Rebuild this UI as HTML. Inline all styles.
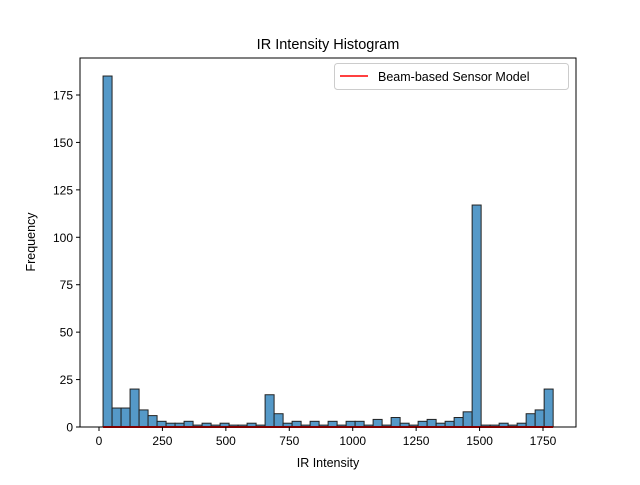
<!DOCTYPE html>
<html><head><meta charset="utf-8"><style>
body{margin:0;background:#fff}
svg{font-family:"Liberation Sans","DejaVu Sans",sans-serif}
</style></head><body>
<svg id="c" width="640" height="480" xmlns="http://www.w3.org/2000/svg">
<rect width="640" height="480" fill="#fff"/>
<text x="328" y="49" text-anchor="middle" font-size="14.5">IR Intensity Histogram</text>
<g id="bars"></g>
<g id="xt"></g>
<g id="yt"></g>
<rect x="80" y="58" width="496" height="369" fill="none" stroke="#000" stroke-width="1"/>
<text x="328" y="467" text-anchor="middle" font-size="12.5">IR Intensity</text>
<text x="35" y="242" text-anchor="middle" font-size="12.5" transform="rotate(-90 35 242)">Frequency</text>
<g>
<rect x="334.5" y="63.5" width="234" height="26" rx="3" fill="#fff" stroke="#ccc"/>
<line x1="340" y1="76" x2="368" y2="76" stroke="#f00" stroke-width="1.5"/>
<text x="378" y="81" font-size="12.5">Beam-based Sensor Model</text>
</g>
</svg>
<script>
const binStart = 16;
const binEnd = 1790;
const counts = [185,10,10,20,9,6,3,2,2,3,1,2,1,2,1,1,2,1,17,7,2,3,1,3,1,3,1,3,3,1,4,1,5,2,1,3,4,2,3,5,8,117,1,1,2,1,2,7,9,20];
const xTicks = [0,250,500,750,1000,1250,1500,1750];
const yTicks = [0,25,50,75,100,125,150,175];
const NS='http://www.w3.org/2000/svg';
const X=v=>99+(v)*(444/1750);
const Y=v=>427-v*(332/175);
function mk(t,a,p){const e=document.createElementNS(NS,t);for(const k in a)e.setAttribute(k,a[k]);p.appendChild(e);return e;}
const bars=document.getElementById('bars');
const w=(binEnd-binStart)/counts.length;
counts.forEach((c,i)=>{
  const x0=X(binStart+i*w),x1=X(binStart+(i+1)*w);
  const r=mk('rect',{x:x0,y:Y(c),width:x1-x0,height:Y(0)-Y(c),fill:'#5599c8',stroke:'#222','stroke-width':1},bars);
  
  
});
const rl=mk('line',{x1:X(binStart),x2:X(binEnd),y1:Y(0),y2:Y(0),stroke:'#f00','stroke-width':2},bars);


const xt=document.getElementById('xt');
xTicks.forEach(v=>{
  const l=mk('line',{x1:X(v),x2:X(v),y1:427,y2:431,stroke:'#000'},xt);
  
  
  const t=mk('text',{x:X(v),y:445,'text-anchor':'middle','font-size':'12'},xt);
  t.textContent=v;
  
  
});
const yt=document.getElementById('yt');
yTicks.forEach(v=>{
  const l=mk('line',{x1:76,x2:80,y1:Y(v),y2:Y(v),stroke:'#000'},yt);
  
  
  const t=mk('text',{x:73,y:Y(v)+4.5,'text-anchor':'end','font-size':'12'},yt);
  t.textContent=v;
  
  
});
</script>
</body></html>
